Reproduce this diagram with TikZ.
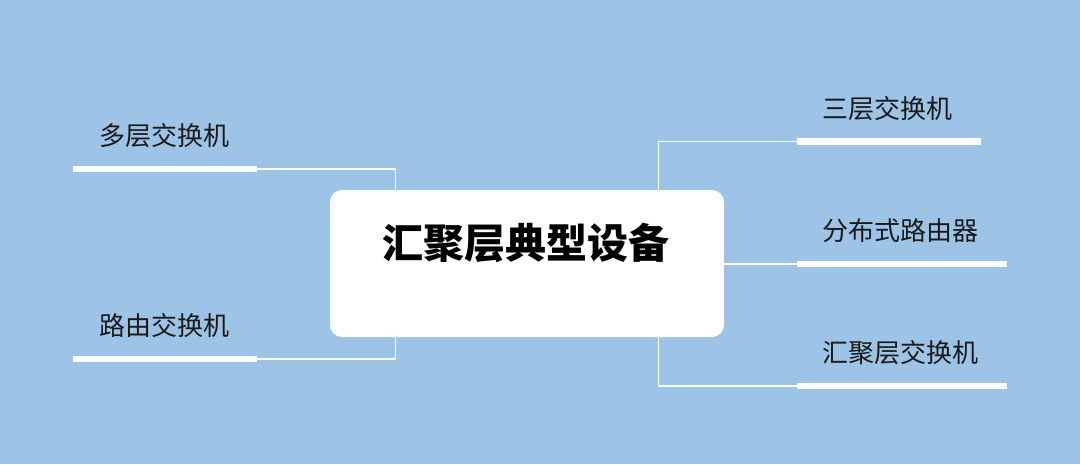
\documentclass[tikz,border=0pt]{standalone}
\usepackage{fontspec}
\usetikzlibrary{calc}
\newfontfamily\cjk{Noto Sans CJK SC}
\definecolor{bg}{HTML}{9DC3E6}
\definecolor{txt}{HTML}{1A1A1A}
\begin{document}
\begin{tikzpicture}[x=1pt,y=-1pt,
  lbl/.style={font=\cjk\fontsize{26}{26}\selectfont, text=txt, inner sep=0pt, anchor=base west},
  ttl/.style={font=\cjk\bfseries\fontsize{41}{41}\selectfont, text=black, inner sep=0pt, anchor=base},
  bar/.style={fill=white, draw=none, inner sep=0pt, minimum height=6.5pt, anchor=west},
  link/.style={draw=white, line width=1.2pt},
  mainbox/.style={fill=white, draw=none, rounded corners=12pt, minimum width=394pt, minimum height=147pt, inner sep=0pt}]
\fill[bg] (0,0) rectangle (1080,464);
\useasboundingbox (0,0) rectangle (1080,464);
% bars
\node[bar, minimum width=184pt] (b1) at (73,169) {};
\node[bar, minimum width=184pt] (b2) at (73,359) {};
\node[bar, minimum width=184pt] (b3) at (797,141.5) {};
\node[bar, minimum width=210pt] (b4) at (797,264) {};
\node[bar, minimum width=210pt] (b5) at (797,386) {};
% central box
\node[mainbox] (box) at (527,263.5) {};
% connectors
\draw[link] (b1.east) -| ($(box.north west)+(66,0)$);
\draw[link] (b2.east) -| ($(box.south west)+(66,0)$);
\draw[link] (b3.west) -| ($(box.north east)+(-66,0)$);
\draw[link] (box.east |- b4.west) -- (b4.west);
\draw[link] (b5.west) -| ($(box.south east)+(-66,0)$);
% texts
\node[ttl] (title) at (526,258) {汇聚层典型设备};
\node[lbl] (t1) at (99,145) {多层交换机};
\node[lbl] (t2) at (99,335) {路由交换机};
\node[lbl] (t3) at (822,118) {三层交换机};
\node[lbl] (t4) at (822,240) {分布式路由器};
\node[lbl] (t5) at (822,362) {汇聚层交换机};
\end{tikzpicture}
\end{document}
